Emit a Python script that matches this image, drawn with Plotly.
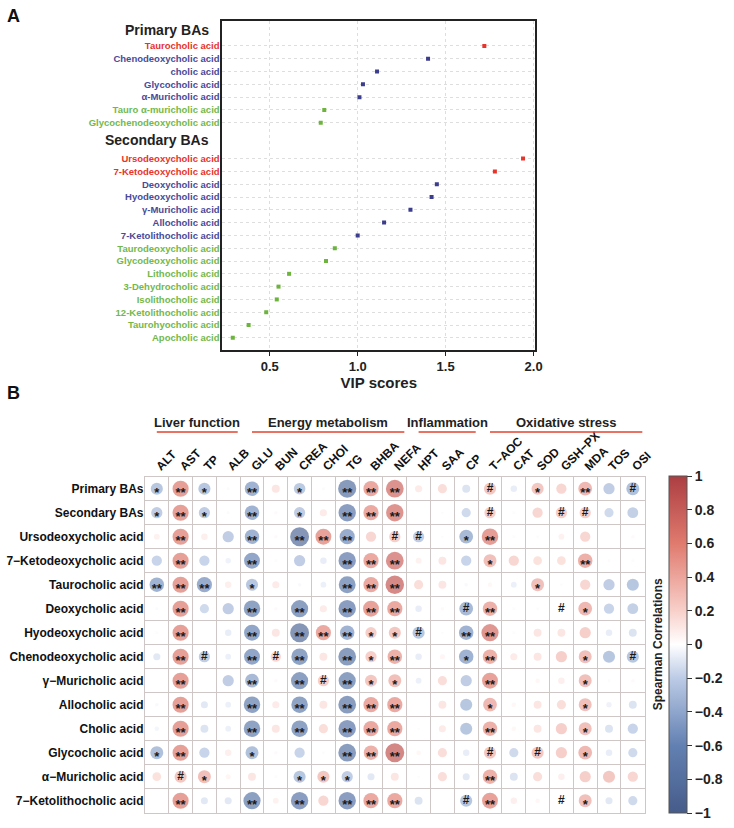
import numpy as np
import plotly.graph_objects as go

W, H = 734, 828
FONT = "Liberation Sans, Arial, sans-serif"

# ---------------- Panel A data ----------------
primary_names = ["Taurocholic acid", "Chenodeoxycholic acid", "cholic acid", "Glycocholic acid",
                 "α-Muricholic acid", "Tauro α-muricholic acid", "Glycochenodeoxycholic acid"]
primary_vip = [1.72, 1.40, 1.11, 1.03, 1.01, 0.81, 0.79]
primary_group = ["red", "blue", "blue", "blue", "blue", "green", "green"]

secondary_names = ["Ursodeoxycholic acid", "7-Ketodeoxycholic acid", "Deoxycholic acid",
                   "Hyodeoxycholic acid", "γ-Muricholic acid", "Allocholic acid",
                   "7-Ketolithocholic acid", "Taurodeoxycholic acid", "Glycodeoxycholic acid",
                   "Lithocholic acid", "3-Dehydrocholic acid", "Isolithocholic acid",
                   "12-Ketolithocholic acid", "Taurohyocholic acid", "Apocholic acid"]
secondary_vip = [1.94, 1.78, 1.45, 1.42, 1.30, 1.15, 1.00, 0.87, 0.82, 0.61, 0.55, 0.54, 0.48, 0.38, 0.29]
secondary_group = ["red", "red", "blue", "blue", "blue", "blue", "blue",
                   "green", "green", "green", "green", "green", "green", "green", "green"]

vip_ticks = [0.5, 1.0, 1.5, 2.0]
group_colors = {"red": "#e8332a", "blue": "#3d3d8e", "green": "#6cb43c"}
label_colors = {"red": "#e8332a", "blue": "#4a4a98", "green": "#74b84a"}

# ---------------- Panel B data ----------------
cols = ["ALT", "AST", "TP", "ALB", "GLU", "BUN", "CREA", "CHOl", "TG", "BHBA", "NEFA",
        "HPT", "SAA", "CP", "T−AOC", "CAT", "SOD", "GSH−PX", "MDA", "TOS", "OSI"]
rows = ["Primary BAs", "Secondary BAs", "Ursodeoxycholic acid", "7−Ketodeoxycholic acid",
        "Taurocholic acid", "Deoxycholic acid", "Hyodeoxycholic acid", "Chenodeoxycholic acid",
        "γ−Muricholic acid", "Allocholic acid", "Cholic acid", "Glycocholic acid",
        "α−Muricholic acid", "7−Ketolithocholic acid"]

r_primary = [-0.35, 0.62, -0.35, -0.02, -0.5, 0.15, -0.32, -0.02, -0.78, 0.55, 0.75, 0.12, 0.2, -0.15, 0.35, -0.1, 0.35, 0.25, 0.45, -0.3, -0.4]
r_secondary = [-0.3, 0.62, -0.3, -0.02, -0.5, 0.03, -0.3, 0.12, -0.72, 0.55, 0.72, 0.0, 0.02, -0.2, 0.3, 0.02, 0.25, 0.3, 0.3, -0.2, -0.28]
r_urso = [0.08, 0.62, 0.1, -0.3, -0.5, 0.03, -0.85, 0.6, -0.55, 0.25, 0.3, -0.3, 0.02, -0.45, 0.65, 0.02, 0.02, 0.08, 0.25, 0.0, 0.03]
r_7keto = [-0.25, 0.62, -0.25, -0.07, -0.6, 0.02, -0.3, -0.1, -0.72, 0.55, 0.75, 0.08, 0.15, -0.25, 0.4, 0.25, 0.18, 0.18, 0.5, 0.02, 0.02]
r_tauro = [-0.5, 0.62, -0.55, 0.1, -0.35, 0.12, -0.03, -0.08, -0.68, 0.55, 0.82, 0.2, 0.15, -0.03, 0.05, -0.08, 0.4, 0.02, 0.25, -0.3, -0.35]
r_deoxy = [-0.02, 0.62, -0.2, -0.3, -0.65, 0.03, -0.7, 0.12, -0.72, 0.6, 0.55, -0.1, 0.03, -0.45, 0.5, 0.02, 0.02, 0.05, 0.45, -0.25, -0.28]
r_hyo = [0.02, 0.62, 0.0, -0.1, -0.6, 0.15, -0.85, 0.55, -0.5, 0.3, 0.35, -0.35, 0.02, -0.5, 0.7, 0.02, 0.15, 0.15, 0.3, -0.1, -0.15]
r_cheno = [-0.12, 0.62, -0.3, -0.08, -0.6, 0.25, -0.65, 0.15, -0.75, 0.3, 0.5, -0.1, 0.06, -0.5, 0.5, 0.12, 0.15, 0.3, 0.4, -0.35, -0.35]
r_gamma = [0.0, 0.62, 0.0, -0.3, -0.45, 0.03, -0.7, 0.3, -0.7, 0.35, 0.4, -0.08, 0.2, -0.3, 0.6, 0.0, 0.05, 0.1, 0.4, 0.02, 0.03]
r_allo = [-0.03, 0.62, -0.12, -0.08, -0.65, 0.12, -0.65, 0.15, -0.75, 0.55, 0.55, 0.0, 0.15, -0.35, 0.45, 0.05, 0.15, 0.2, 0.4, -0.07, -0.15]
r_cholic = [-0.05, 0.62, -0.15, -0.08, -0.65, 0.15, -0.65, 0.2, -0.72, 0.55, 0.55, 0.02, 0.12, -0.35, 0.5, 0.05, 0.15, 0.3, 0.4, -0.15, -0.25]
r_glyco = [-0.4, 0.62, -0.25, 0.1, -0.4, 0.03, -0.25, 0.02, -0.75, 0.5, 0.85, 0.05, 0.2, -0.1, 0.35, -0.2, 0.35, 0.3, 0.45, -0.1, -0.2]
r_alpha = [0.18, 0.35, 0.4, 0.06, 0.15, 0.02, -0.35, 0.35, -0.3, -0.12, 0.15, 0.02, 0.2, -0.12, 0.5, -0.15, 0.2, 0.1, 0.3, 0.35, 0.25]
r_7kl = [0.0, 0.62, -0.12, -0.12, -0.7, 0.08, -0.72, 0.25, -0.72, 0.55, 0.55, -0.15, 0.0, -0.35, 0.6, 0.1, 0.05, 0.05, 0.4, -0.12, -0.2]

m_primary = ["*", "**", "*", "", "**", "", "*", "", "**", "**", "**", "", "", "", "#", "", "*", "", "**", "", "#"]
m_secondary = ["*", "**", "*", "", "**", "", "*", "", "**", "**", "**", "", "", "", "#", "", "", "#", "#", "", ""]
m_urso = ["", "**", "", "", "**", "", "**", "**", "**", "", "#", "#", "", "*", "**", "", "", "", "", "", ""]
m_7keto = ["", "**", "", "", "**", "", "", "", "**", "**", "**", "", "", "", "*", "", "", "", "**", "", ""]
m_tauro = ["**", "**", "**", "", "*", "", "", "", "**", "**", "**", "", "", "", "", "", "*", "", "", "", ""]
m_deoxy = ["", "**", "", "", "**", "", "**", "", "**", "**", "**", "", "", "#", "**", "", "", "#", "*", "", ""]
m_hyo = ["", "**", "", "", "**", "", "**", "**", "**", "*", "*", "#", "", "**", "**", "", "", "", "", "", ""]
m_cheno = ["", "**", "#", "", "**", "#", "**", "", "**", "*", "**", "", "", "*", "**", "", "", "", "*", "", "#"]
m_gamma = ["", "**", "", "", "**", "", "**", "#", "**", "*", "*", "", "", "", "**", "", "", "", "*", "", ""]
m_allo = ["", "**", "", "", "**", "", "**", "", "**", "**", "**", "", "", "", "*", "", "", "", "*", "", ""]
m_cholic = ["", "**", "", "", "**", "", "**", "", "**", "**", "**", "", "", "", "**", "", "", "", "*", "", ""]
m_glyco = ["*", "**", "", "", "*", "", "", "", "**", "**", "**", "", "", "", "#", "", "#", "", "*", "", ""]
m_alpha = ["", "#", "*", "", "", "", "*", "*", "*", "", "", "", "", "", "**", "", "", "", "", "", ""]
m_7kl = ["", "**", "", "", "**", "", "**", "", "**", "**", "**", "", "", "#", "**", "", "", "#", "*", "", ""]

corr_rows = [r_primary, r_secondary, r_urso, r_7keto, r_tauro, r_deoxy, r_hyo, r_cheno,
             r_gamma, r_allo, r_cholic, r_glyco, r_alpha, r_7kl]
mark_rows = [m_primary, m_secondary, m_urso, m_7keto, m_tauro, m_deoxy, m_hyo, m_cheno,
             m_gamma, m_allo, m_cholic, m_glyco, m_alpha, m_7kl]

groups = [("Liver function", 0, 3), ("Energy metabolism", 4, 10),
          ("Inflammation", 11, 13), ("Oxidative stress", 14, 20)]
cbar_ticks = [1, 0.8, 0.6, 0.4, 0.2, 0, -0.2, -0.4, -0.6, -0.8, -1]

# ---------------- helpers ----------------
def px_x(p):
    return p / W

def px_y(p):
    return 1 - p / H

fig = go.Figure()

# ---------------- Panel A ----------------
prim_pos = [1 + i for i in range(len(primary_names))]
sec_pos = [9.8 + i for i in range(len(secondary_names))]
a_names = primary_names + secondary_names
a_vip = primary_vip + secondary_vip
a_grp = primary_group + secondary_group
a_pos = prim_pos + sec_pos

fig.add_trace(go.Scatter(
    x=a_vip, y=a_pos, mode="markers",
    marker=dict(symbol="square", size=4, color=[group_colors[g] for g in a_grp]),
    xaxis="x", yaxis="y", showlegend=False, hoverinfo="skip"))

a_ticktext = ["<span style='color:%s'>%s</span>" % (label_colors[g], n) for n, g in zip(a_names, a_grp)]

# ---------------- Panel B ----------------
xs, ys, rs, ms = [], [], [], []
for i, (rr, mm) in enumerate(zip(corr_rows, mark_rows)):
    for j, (v, m) in enumerate(zip(rr, mm)):
        xs.append(j); ys.append(i); rs.append(v); ms.append(m)
rs = np.array(rs)
xs = np.array(xs); ys = np.array(ys); ms = np.array(ms)

colorscale = [
    [0.0, "rgb(70,92,138)"],
    [0.2, "rgb(98,128,178)"],
    [0.4, "rgb(188,203,230)"],
    [0.5, "rgb(255,255,255)"],
    [0.6, "rgb(248,208,202)"],
    [0.8, "rgb(224,122,110)"],
    [1.0, "rgb(172,62,66)"],
]

fig.add_trace(go.Scatter(
    x=xs, y=ys, mode="markers",
    marker=dict(size=20.5 * np.sqrt(np.abs(rs)), color=rs, colorscale=colorscale,
                cmin=-1, cmax=1, line=dict(width=0),
                colorbar=dict(
                    x=px_x(677), xanchor="left", xpad=0,
                    y=px_y(644.5), yanchor="middle", ypad=0,
                    len=337, lenmode="pixels", thickness=18,
                    outlinewidth=1, outlinecolor="#555555",
                    tickvals=cbar_ticks,
                    ticktext=[("−" if t < 0 else "") + ("%g" % abs(t)) for t in cbar_ticks],
                    ticks="outside", ticklen=5, tickcolor="#333333",
                    tickfont=dict(family=FONT, size=14, color="#222222", weight="bold"))),
    xaxis="x2", yaxis="y2", showlegend=False, hoverinfo="skip"))

star = np.array([m.startswith("*") for m in ms])
hashm = ms == "#"
# asterisks sit high in the glyph box: nudge them down to the circle centre
fig.add_trace(go.Scatter(
    x=xs[star], y=ys[star] + 0.2, mode="text", text=ms[star], textposition="middle center",
    textfont=dict(family=FONT, size=13, color="#1a1a1a", weight="bold"),
    xaxis="x2", yaxis="y2", showlegend=False, hoverinfo="skip"))
fig.add_trace(go.Scatter(
    x=xs[hashm], y=ys[hashm], mode="text", text=ms[hashm], textposition="middle center",
    textfont=dict(family=FONT, size=12, color="#1a1a1a", weight="bold"),
    xaxis="x2", yaxis="y2", showlegend=False, hoverinfo="skip"))

# ---------------- Layout ----------------
grid_b = "#cfc6c6"
fig.update_layout(
    width=W, height=H,
    margin=dict(l=0, r=0, t=0, b=0),
    paper_bgcolor="white", plot_bgcolor="white",
    font=dict(family=FONT, color="#222222"),
    xaxis=dict(
        domain=[px_x(225), px_x(542)], anchor="y", range=[0.23, 2.01],
        tickvals=vip_ticks, ticktext=["%.1f" % v for v in vip_ticks],
        showgrid=True, gridcolor="#dedede", griddash="dot", gridwidth=1,
        zeroline=False, showline=True, mirror=True, linecolor="#222222", linewidth=1.5,
        ticks="outside", ticklen=4, tickcolor="#222222",
        tickfont=dict(family=FONT, size=13, color="#222222", weight="bold"),
        title=dict(text="VIP scores", standoff=4,
                   font=dict(family=FONT, size=15, color="#222222", weight="bold"))),
    yaxis=dict(
        domain=[px_y(350), px_y(21)], anchor="x", range=[24.75, -0.95],
        tickvals=a_pos, ticktext=a_ticktext,
        showgrid=True, gridcolor="#dedede", griddash="dot", gridwidth=1,
        zeroline=False, showline=True, mirror=True, linecolor="#222222", linewidth=1.5,
        ticks="", ticklabelstandoff=-1,
        tickfont=dict(family=FONT, size=9.5, weight="bold")),
    xaxis2=dict(
        domain=[px_x(146.7), px_x(652.7)], anchor="y2", range=[-0.5, 20.5],
        side="top", tickvals=list(range(len(cols))), ticktext=cols, tickangle=-45,
        showgrid=False, zeroline=False, ticks="", ticklabelstandoff=-2,
        showline=True, mirror=True, linecolor=grid_b, linewidth=1,
        minor=dict(tickvals=[k + 0.5 for k in range(-1, len(cols))], showgrid=True,
                   gridcolor=grid_b, gridwidth=1, ticks=""),
        tickfont=dict(family=FONT, size=12, color="#111111", weight="bold")),
    yaxis2=dict(
        domain=[px_y(812.7), px_y(476.7)], anchor="x2", range=[13.5, -0.5],
        tickvals=list(range(len(rows))), ticktext=rows,
        showgrid=False, zeroline=False, ticks="", ticklabelstandoff=-2,
        showline=True, mirror=True, linecolor=grid_b, linewidth=1,
        minor=dict(tickvals=[k + 0.5 for k in range(-1, len(rows))], showgrid=True,
                   gridcolor=grid_b, gridwidth=1, ticks=""),
        tickfont=dict(family=FONT, size=12, color="#111111", weight="bold")),
)

annotations = [
    dict(text="A", x=px_x(5), y=px_y(16), xref="paper", yref="paper", xanchor="left",
         yanchor="middle", showarrow=False, font=dict(family=FONT, size=18, color="#111111", weight="bold")),
    dict(text="B", x=px_x(5), y=px_y(393), xref="paper", yref="paper", xanchor="left",
         yanchor="middle", showarrow=False, font=dict(family=FONT, size=18, color="#111111", weight="bold")),
    dict(text="Primary BAs", x=px_x(214), y=-0.25, xref="paper", yref="y", xanchor="right",
         yanchor="middle", showarrow=False, font=dict(family=FONT, size=14, color="#222222", weight="bold")),
    dict(text="Secondary BAs", x=px_x(214), y=8.33, xref="paper", yref="y", xanchor="right",
         yanchor="middle", showarrow=False, font=dict(family=FONT, size=14, color="#222222", weight="bold")),
    dict(text="Spearman Correlations", x=px_x(666), y=px_y(644.5), xref="paper", yref="paper",
         xanchor="center", yanchor="middle", textangle=-90, showarrow=False,
         font=dict(family=FONT, size=12, color="#222222", weight="bold")),
]
shapes = []
for name, c0, c1 in groups:
    x0, x1 = c0, c1 + 0.4
    shapes.append(dict(type="line", xref="x2", yref="paper", x0=x0, x1=x1,
                       y0=px_y(432), y1=px_y(432), line=dict(color="#e2432f", width=1.5)))
    annotations.append(dict(text=name, x=(x0 + x1) / 2, y=px_y(422.5), xref="x2", yref="paper",
                            xanchor="center", yanchor="middle", showarrow=False,
                            font=dict(family=FONT, size=13, color="#222222", weight="bold")))

fig.update_layout(annotations=annotations, shapes=shapes)

fig.write_html("out.html")
